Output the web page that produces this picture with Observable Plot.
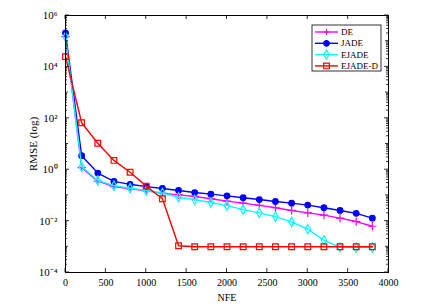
<!DOCTYPE html>
<html>
<head>
<meta charset="utf-8">
<script src="https://cdn.jsdelivr.net/npm/d3@7"></script>
<script src="https://cdn.jsdelivr.net/npm/@observablehq/plot@0.6"></script>
<style>
  html, body { margin: 0; padding: 0; background: #fff; }
  svg { display: block; }
</style>
</head>
<body>
<div id="chart"></div>
<script>
// ---- data ----
const nfe = [0, 200, 400, 600, 800, 1000, 1200, 1400, 1600, 1800, 2000, 2200, 2400, 2600, 2800, 3000, 3200, 3400, 3600, 3800];
const DE = [1.5e5, 1.2, 0.36, 0.22, 0.18, 0.15, 0.123, 0.105, 0.091, 0.074, 0.060, 0.050, 0.041, 0.033, 0.026, 0.021, 0.017, 0.013, 0.0096, 0.0063];
const JADE = [2.1e5, 3.5, 0.74, 0.35, 0.27, 0.22, 0.186, 0.155, 0.129, 0.112, 0.096, 0.081, 0.069, 0.058, 0.050, 0.042, 0.033, 0.026, 0.020, 0.013];
const EJADE = [1.5e5, 1.3, 0.38, 0.24, 0.19, 0.155, 0.123, 0.085, 0.068, 0.053, 0.040, 0.028, 0.021, 0.015, 0.0093, 0.0049, 0.0018, 0.00095, 0.00093, 0.00093];
const EJADE_D = [2.5e4, 67, 10.7, 2.3, 0.8, 0.23, 0.074, 0.0011, 0.001, 0.001, 0.001, 0.001, 0.001, 0.001, 0.001, 0.001, 0.001, 0.001, 0.001, 0.001];
const seriesNames = ["DE", "JADE", "EJADE", "EJADE-D"];
const seriesValues = [DE, JADE, EJADE, EJADE_D];
const colors = ["#ff00ff", "#0000ff", "#00ffff", "#ff0000"];
const symbols = ["plus", "circle", "diamond", "square"];
const xTicks = [0, 500, 1000, 1500, 2000, 2500, 3000, 3500, 4000];
const yTicks = [1e-4, 1e-2, 1e0, 1e2, 1e4, 1e6];

const sup = {"-": "\u207B", "0": "\u2070", "1": "\u00B9", "2": "\u00B2", "3": "\u00B3", "4": "\u2074", "5": "\u2075", "6": "\u2076", "7": "\u2077", "8": "\u2078", "9": "\u2079"};
const fmtPow = d => "10" + String(Math.round(Math.log10(d))).split("").map(c => sup[c]).join("");

const marks = [];
seriesNames.forEach((name, k) => {
  const rows = nfe.map((x, i) => ({x, y: seriesValues[k][i], name}));
  marks.push(Plot.line(rows, {x: "x", y: "y", stroke: colors[k], strokeWidth: 1.4}));
  const sym = symbols[k];
  const opts = {x: "x", y: "y", symbol: sym, strokeWidth: 1.2};
  if (sym === "circle") Object.assign(opts, {fill: colors[k], stroke: colors[k], r: 2.8});
  else if (sym === "plus") Object.assign(opts, {stroke: colors[k], r: 2.8});
  else if (sym === "diamond") Object.assign(opts, {stroke: colors[k], fill: "none", r: 2.8});
  else Object.assign(opts, {stroke: colors[k], fill: "none", r: 3.2});
  marks.push(Plot.dot(rows, opts));
});

const plot = Plot.plot({
  width: 421,
  height: 306,
  marginLeft: 65,
  marginRight: 33,
  marginTop: 15,
  marginBottom: 34,
  style: {fontFamily: "'Liberation Serif', 'Times New Roman', serif", fontSize: "10px", background: "#fff", color: "#000"},
  x: {domain: [0, 4000]},
  y: {type: "log", domain: [1e-4, 1e6]},
  marks: [
    Plot.axisX({ticks: xTicks, tickSize: 0, tickPadding: 6, tickFormat: d => String(d), label: "NFE", labelAnchor: "center", labelArrow: "none", labelOffset: 28, fontSize: 10}),
    Plot.axisY({ticks: yTicks, tickSize: 0, tickPadding: 8, tickFormat: fmtPow, label: "RMSE (log)", labelAnchor: "center", labelArrow: "none", labelOffset: 36, fontSize: 11}),
    ...marks,
    Plot.frame({stroke: "#000", strokeWidth: 1})
  ]
});
document.getElementById("chart").appendChild(plot);

// ---- inward ticks and legend (positions via Plot's scales) ----
const svg = d3.select(plot);
const xs = plot.scale("x"), ys = plot.scale("y");
const x0 = xs.apply(0), x1 = xs.apply(4000), yTop = ys.apply(1e6), yBot = ys.apply(1e-4);
const g = svg.append("g").attr("stroke", "#000").attr("stroke-width", 0.8);
xTicks.forEach(t => {
  const px = xs.apply(t);
  g.append("line").attr("x1", px).attr("x2", px).attr("y1", yBot).attr("y2", yBot - 4);
  g.append("line").attr("x1", px).attr("x2", px).attr("y1", yTop).attr("y2", yTop + 4);
});
for (let e = -4; e <= 6; e++) {
  for (let m = 1; m <= 9; m++) {
    const v = m * Math.pow(10, e);
    if (v > 1e6) break;
    const py = ys.apply(v);
    const len = m === 1 ? (e % 2 === 0 ? 4 : 3) : 2;
    g.append("line").attr("x1", x0).attr("x2", x0 + len).attr("y1", py).attr("y2", py);
    g.append("line").attr("x1", x1).attr("x2", x1 - len).attr("y1", py).attr("y2", py);
  }
}

// legend
const lg = svg.append("g").attr("text-anchor", "start");
const lx = 312, ly = 25, lw = 69, lh = 46;
lg.append("rect").attr("x", lx).attr("y", ly).attr("width", lw).attr("height", lh)
  .attr("fill", "#fff").attr("stroke", "#000").attr("stroke-width", 0.8);
const symMap = {circle: d3.symbolCircle, diamond: d3.symbolDiamond, square: d3.symbolSquare};
seriesNames.forEach((name, k) => {
  const cy = ly + 7 + k * 11.3;
  lg.append("line").attr("x1", lx + 3).attr("x2", lx + 26).attr("y1", cy).attr("y2", cy)
    .attr("stroke", colors[k]).attr("stroke-width", 1.4);
  const sym = symbols[k];
  let path;
  if (sym === "plus") {
    path = lg.append("path").attr("d", "M-3,0H3M0,-3V3").attr("stroke", colors[k]).attr("fill", "none").attr("stroke-width", 1.2);
  } else {
    const r = sym === "square" ? 3.2 : 2.8;
    path = lg.append("path").attr("d", d3.symbol(symMap[sym], Math.PI * r * r)())
      .attr("stroke", colors[k]).attr("stroke-width", 1.2)
      .attr("fill", sym === "circle" ? colors[k] : "none");
  }
  path.attr("transform", `translate(${lx + 14.5},${cy})`);
  lg.append("text").attr("x", lx + 29).attr("y", cy).attr("dy", "0.35em")
    .attr("text-anchor", "start").attr("font-size", 9).attr("fill", "#000").text(name);
});
</script>
</body>
</html>
